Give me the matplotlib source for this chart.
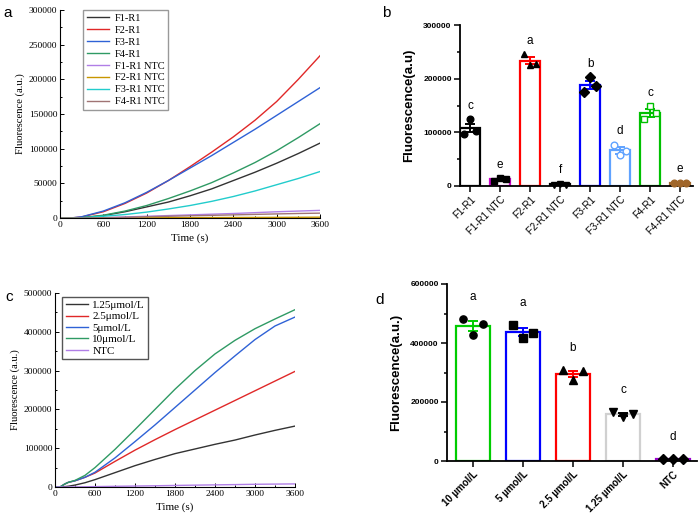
import matplotlib
matplotlib.use("Agg")
import matplotlib.pyplot as plt
import numpy as np
from matplotlib.ticker import MultipleLocator

SERIF = "Liberation Serif"
SANS = "Liberation Sans"

# ---- panel a: kinetic curves of the four primer pairs ----
t_a = [0, 150, 300, 600, 900, 1200, 1500, 1800, 2100, 2400, 2700, 3000, 3300, 3600]
a_labels = ["F1-R1", "F2-R1", "F3-R1", "F4-R1",
            "F1-R1 NTC", "F2-R1 NTC", "F3-R1 NTC", "F4-R1 NTC"]
f1_r1 = [0, 0, 400, 3500, 9000, 16000, 23000, 32000, 42000, 54000, 66000, 79000, 93000, 108000]
f2_r1 = [0, 0, 1500, 9000, 21000, 36000, 54000, 74000, 95000, 117000, 141000, 168000, 200000, 234000]
f3_r1 = [0, 0, 1800, 10000, 22000, 37000, 54000, 72000, 90000, 109000, 128000, 148000, 168000, 188000]
f4_r1 = [0, 0, 500, 4000, 10000, 18000, 28000, 39000, 51000, 65000, 80000, 97000, 116000, 136000]
f1_ntc = [0, 0, 0, 500, 1500, 2500, 3500, 4500, 5500, 6500, 7700, 9000, 10000, 11000]
f2_ntc = [0, 0, 0, 100, 200, 300, 400, 500, 600, 700, 800, 900, 1000, 1200]
f3_ntc = [0, 0, 300, 2500, 5000, 8500, 13000, 18000, 24000, 31000, 39000, 48000, 57000, 67000]
f4_ntc = [0, 0, 0, 300, 1000, 1800, 2500, 3200, 3800, 4500, 5200, 5900, 6500, 7000]
a_series = [f1_r1, f2_r1, f3_r1, f4_r1, f1_ntc, f2_ntc, f3_ntc, f4_ntc]
a_colors = ["#333333", "#e02828", "#2f62d6", "#2f9a64",
            "#b07ee6", "#c89600", "#22cccc", "#a07474"]

# ---- panel b: endpoint fluorescence ----
b_labels = ["F1-R1", "F1-R1 NTC", "F2-R1", "F2-R1 NTC",
            "F3-R1", "F3-R1 NTC", "F4-R1", "F4-R1 NTC"]
b_points = [[97600, 124000, 102000],
            [9500, 14500, 12500],
            [246000, 226000, 228000],
            [2500, 4000, 2000],
            [175000, 203000, 186000],
            [77000, 57000, 65000],
            [124000, 148500, 136000],
            [5000, 6500, 5000]]
b_letters = ["c", "e", "a", "f", "b", "d", "c", "e"]
b_colors = ["#000000", "#cc00cc", "#ff0000", "#000000",
            "#0000ff", "#5fa2ff", "#00c000", "#a0662a"]
b_markers = ["o", "s", "^", "v", "D", "o", "s", "o"]
b_mfc = ["k", "k", "k", "k", "k", "white", "white", "#a0662a"]
b_mec = ["k", "k", "k", "k", "k", "#5fa2ff", "#00c000", "#a0662a"]

# ---- panel c: primer concentration curves ----
t_c = [0, 75, 150, 200, 300, 450, 600, 900, 1200, 1500, 1800, 2100, 2400, 2700, 3000, 3300, 3600]
c_labels = ["1.25\u03bcmol/L", "2.5\u03bcmol/L", "5\u03bcmol/L", "10\u03bcmol/L", "NTC"]
c_125 = [0, 0, 1000, 2000, 5000, 11000, 19000, 37000, 55000, 71000, 86000, 98000, 110000, 121000, 134000, 146000, 157000]
c_25 = [0, 0, 8000, 12000, 16000, 25000, 36000, 66000, 95000, 122000, 148000, 173000, 198000, 223000, 248000, 273000, 298000]
c_5 = [0, 0, 8000, 12000, 16000, 25000, 38000, 75000, 117000, 160000, 205000, 250000, 295000, 338000, 380000, 415000, 438000]
c_10 = [0, 0, 8000, 12000, 17000, 30000, 50000, 97000, 148000, 200000, 252000, 300000, 343000, 378000, 408000, 433000, 457000]
c_ntc = [0, 0, 0, 100, 300, 600, 1000, 1800, 2500, 3200, 4000, 4800, 5500, 6200, 7000, 7500, 8000]
c_series = [c_125, c_25, c_5, c_10, c_ntc]
c_colors = ["#333333", "#e02828", "#2f62d6", "#2f9a64", "#b07ee6"]

# ---- panel d: endpoint fluorescence by concentration ----
d_labels = ["10 \u00b5mol/L", "5 \u00b5mol/L", "2.5 \u00b5mol/L", "1.25 \u00b5mol/L", "NTC"]
d_points = [[482000, 427000, 465000],
            [461000, 416000, 433000],
            [308000, 275000, 305000],
            [167000, 150000, 159000],
            [7000, 8000, 7000]]
d_letters = ["a", "a", "b", "c", "d"]
d_colors = ["#00cc00", "#0000ff", "#ff0000", "#d0d0d0", "#9900cc"]
d_err_colors = ["#00cc00", "#0000ff", "#ff0000", "#000000", "#9900cc"]
d_markers = ["o", "s", "^", "v", "D"]

W, H = 700, 517


def box(left, top, right, bottom):
    return [left / W, 1 - bottom / H, (right - left) / W, (bottom - top) / H]


def origin_axes(ax, xmax, ymax, ymaj, ymin):
    ax.set_xlim(0, xmax)
    ax.set_ylim(0, ymax)
    ax.xaxis.set_major_locator(MultipleLocator(600))
    ax.xaxis.set_minor_locator(MultipleLocator(300))
    ax.yaxis.set_major_locator(MultipleLocator(ymaj))
    ax.yaxis.set_minor_locator(MultipleLocator(ymin))
    for s in ["top", "right"]:
        ax.spines[s].set_visible(False)
    for s in ["left", "bottom"]:
        ax.spines[s].set_linewidth(0.8)
    ax.tick_params(which="both", direction="in", width=0.7)
    ax.tick_params(which="major", length=3, labelsize=6.8, pad=2)
    ax.tick_params(which="minor", length=1.5)
    for lab in ax.get_xticklabels() + ax.get_yticklabels():
        lab.set_fontfamily(SERIF)
    ax.set_xlabel("Time (s)", fontfamily=SERIF, fontsize=8, labelpad=3)
    ax.set_ylabel("Fluorescence (a.u.)", fontfamily=SERIF, fontsize=7.7, labelpad=3)


def prism_bars(ax, points, colors, err_colors, markers, mfc, mec, letters, offset, ms, width):
    x = np.arange(len(points))
    for i, pts in enumerate(points):
        pts = np.asarray(pts, dtype=float)
        mean = pts.mean()
        sem = pts.std(ddof=1) / np.sqrt(len(pts))
        ax.bar(x[i], mean, width=width, facecolor="white", edgecolor=colors[i],
               linewidth=1.6, zorder=2)
        ax.errorbar(x[i], mean, yerr=sem, color=err_colors[i], capsize=3.5,
                    elinewidth=1.4, capthick=1.4, zorder=3)
        jitter = np.linspace(-0.2, 0.2, len(pts))
        ax.plot(x[i] + jitter, pts, linestyle="none", marker=markers[i], ms=ms,
                mfc=mfc[i], mec=mec[i], mew=1.0, zorder=4, clip_on=False)
        ax.text(x[i], pts.max() + offset, letters[i], ha="center", va="center",
                fontsize=8.5, fontfamily=SANS)
    for s in ["top", "right"]:
        ax.spines[s].set_visible(False)
    for s in ["left", "bottom"]:
        ax.spines[s].set_linewidth(1.3)
    ax.tick_params(which="both", direction="out", width=1.1)
    ax.tick_params(which="major", length=4, labelsize=6, pad=2)
    ax.tick_params(which="minor", length=2.5)
    ax.set_xticks(x)


fig = plt.figure(figsize=(7, 5.17), dpi=100)

# panel a
ax_a = fig.add_axes(box(60, 10, 320, 218))
for ys, lab, col in zip(a_series, a_labels, a_colors):
    ax_a.plot(t_a, ys, color=col, lw=1.0, label=lab)
origin_axes(ax_a, 3600, 300000, 50000, 25000)
ax_a.legend(loc="upper left", bbox_to_anchor=(0.088, 1.0), borderaxespad=0,
            prop={"family": SERIF, "size": 7.5}, frameon=True, fancybox=False,
            edgecolor="#999999", framealpha=1, handlelength=2.2,
            labelspacing=0.25, borderpad=0.35, handletextpad=0.5)

# panel b
ax_b = fig.add_axes(box(460, 25, 693, 186))
prism_bars(ax_b, b_points, b_colors, b_colors, b_markers, b_mfc, b_mec,
           b_letters, 25000, 4.8, 0.66)
ax_b.set_xlim(-0.34, 7.43)
ax_b.set_ylim(0, 300000)
ax_b.yaxis.set_major_locator(MultipleLocator(100000))
ax_b.yaxis.set_minor_locator(MultipleLocator(50000))
ax_b.set_xticklabels(b_labels, rotation=45, ha="right", rotation_mode="anchor",
                     fontfamily=SANS, fontsize=7)
for lab in ax_b.get_yticklabels():
    lab.set_fontfamily(SANS)
    lab.set_fontweight("bold")
ax_b.set_ylabel("Fluorescence(a.u)", fontfamily=SANS, fontweight="bold",
                fontsize=9.5, labelpad=6)

# panel c
ax_c = fig.add_axes(box(55, 293, 295, 487))
for ys, lab, col in zip(c_series, c_labels, c_colors):
    ax_c.plot(t_c, ys, color=col, lw=1.0, label=lab)
origin_axes(ax_c, 3600, 500000, 100000, 50000)
ax_c.legend(loc="upper left", bbox_to_anchor=(0.03, 0.98), borderaxespad=0,
            prop={"family": SERIF, "size": 8}, frameon=True, fancybox=False,
            edgecolor="#555555", framealpha=1, handlelength=2.0,
            labelspacing=0.15, borderpad=0.3, handletextpad=0.4)

# panel d
ax_d = fig.add_axes(box(447, 284, 697, 461))
prism_bars(ax_d, d_points, d_colors, d_err_colors, d_markers,
           ["k"] * 5, ["k"] * 5, d_letters, 75000, 5.2, 0.68)
ax_d.set_xlim(-0.52, 4.48)
ax_d.set_ylim(0, 600000)
ax_d.yaxis.set_major_locator(MultipleLocator(200000))
ax_d.yaxis.set_minor_locator(MultipleLocator(100000))
ax_d.set_xticklabels(d_labels, rotation=45, ha="right", rotation_mode="anchor",
                     fontfamily=SANS, fontsize=7, fontweight="bold")
for lab in ax_d.get_yticklabels():
    lab.set_fontfamily(SANS)
    lab.set_fontweight("bold")
ax_d.set_ylabel("Fluorescence(a.u.)", fontfamily=SANS, fontweight="bold",
                fontsize=9.5, labelpad=6)

# panel letters
for px, py, letter in [(3, 13, "a"), (382, 13, "b"), (5, 297, "c"), (375, 300, "d")]:
    fig.text(px / W, 1 - py / H, letter, fontfamily=SANS, fontsize=11,
             ha="left", va="center")

fig.savefig("out.png", dpi=100)
